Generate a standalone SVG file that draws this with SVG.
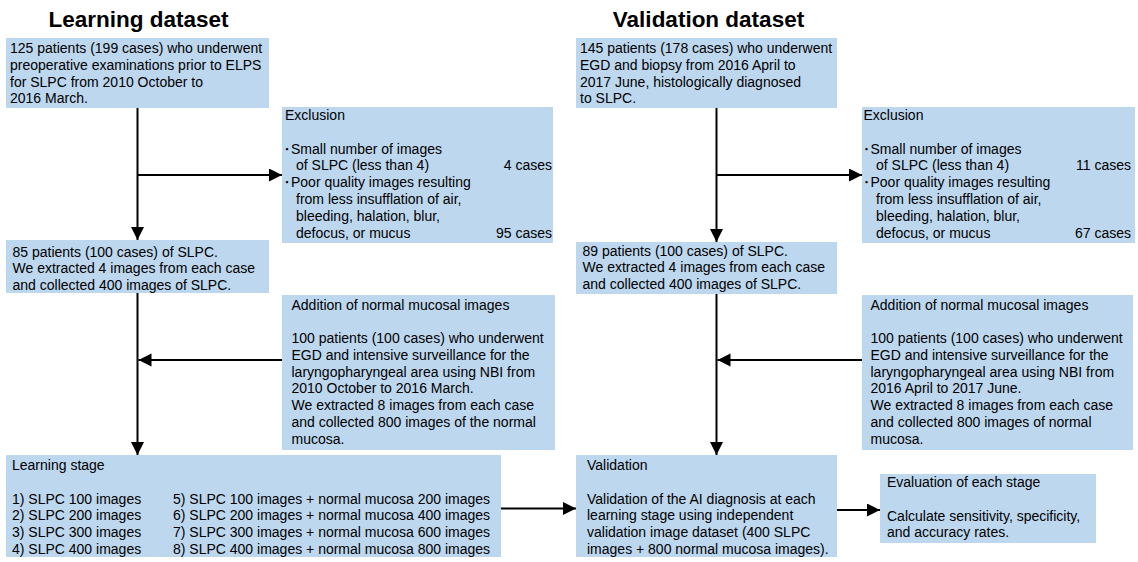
<svg xmlns="http://www.w3.org/2000/svg" width="1138" height="562" viewBox="0 0 1138 562">
<style>
  .box { fill: #bdd7ee; }
  text { font-family: "Liberation Sans", Arial, sans-serif; font-size: 14px; fill: #000; }
  .title { font-size: 22.5px; font-weight: bold; text-anchor: middle; }
  .end { text-anchor: end; }
  .bul { font-family: "Noto Sans CJK JP", "Liberation Sans", sans-serif; text-anchor: end; }
  .conn { stroke: #000; stroke-width: 2; fill: none; marker-end: url(#arrow); }
</style>
<defs>
  <marker id="arrow" markerUnits="userSpaceOnUse" markerWidth="14" markerHeight="14" refX="13" refY="6.5" orient="auto">
    <path d="M0,0 L13,6.5 L0,13 z" fill="#000"/>
  </marker>
</defs>
<rect width="1138" height="562" fill="#fff"/>

<text class="title" x="138.5" y="27">Learning dataset</text>
<text class="title" x="708.5" y="27">Validation dataset</text>

<g id="connectors">
  <line class="conn" x1="137.5" y1="108" x2="137.5" y2="240"/>
  <line class="conn" x1="137.5" y1="175" x2="282" y2="175"/>
  <line class="conn" x1="137.5" y1="292" x2="137.5" y2="455"/>
  <line class="conn" x1="282" y1="360" x2="138.5" y2="360"/>
  <line class="conn" x1="501" y1="508.5" x2="576" y2="508.5"/>
  <line class="conn" x1="716.5" y1="108" x2="716.5" y2="242"/>
  <line class="conn" x1="716.5" y1="175" x2="862" y2="175"/>
  <line class="conn" x1="716.5" y1="294" x2="716.5" y2="455"/>
  <line class="conn" x1="862" y1="360" x2="717.5" y2="360"/>
  <line class="conn" x1="837" y1="510" x2="880" y2="510"/>
</g>

<g id="learn-source">
  <rect class="box" x="6" y="38" width="263" height="70"/>
  <text x="10" y="53.3">125 patients (199 cases) who underwent</text>
  <text x="10" y="70">preoperative examinations prior to ELPS</text>
  <text x="10" y="86.7">for SLPC from 2010 October to</text>
  <text x="10" y="103.4">2016 March.</text>
</g>

<g id="learn-exclusion">
  <rect class="box" x="282" y="107" width="271" height="136"/>
  <text x="285" y="120">Exclusion</text>
  <text class="bul" x="290.5" y="153.6">･</text>
  <text x="291" y="153.6">Small number of images</text>
  <text x="296" y="170.4">of SLPC (less than 4)</text>
  <text class="end" x="552" y="170.4">4 cases</text>
  <text class="bul" x="290.5" y="187.2">･</text>
  <text x="291" y="187.2">Poor quality images resulting</text>
  <text x="296" y="204">from less insufflation of air,</text>
  <text x="296" y="220.8">bleeding, halation, blur,</text>
  <text x="296" y="237.6">defocus, or mucus</text>
  <text class="end" x="552" y="237.6">95 cases</text>
</g>

<g id="learn-slpc">
  <rect class="box" x="6" y="240" width="263" height="53"/>
  <text x="12.5" y="256.5">85 patients (100 cases) of SLPC.</text>
  <text x="12.5" y="273">We extracted 4 images from each case</text>
  <text x="12.5" y="289.5">and collected 400 images of SLPC.</text>
</g>

<g id="learn-addition">
  <rect class="box" x="282" y="295" width="273" height="155"/>
  <text x="291.5" y="309.5">Addition of normal mucosal images</text>
  <text x="291.5" y="343.3">100 patients (100 cases) who underwent</text>
  <text x="291.5" y="360">EGD and intensive surveillance for the</text>
  <text x="291.5" y="376.7">laryngopharyngeal area using NBI from</text>
  <text x="291.5" y="393.4">2010 October to 2016 March.</text>
  <text x="291.5" y="410.1">We extracted 8 images from each case</text>
  <text x="291.5" y="426.8">and collected 800 images of the normal</text>
  <text x="291.5" y="443.5">mucosa.</text>
</g>

<g id="learning-stage">
  <rect class="box" x="6" y="455" width="495" height="102"/>
  <text x="12" y="470">Learning stage</text>
  <text x="12" y="503.5">1) SLPC 100 images</text>
  <text x="12" y="520.2">2) SLPC 200 images</text>
  <text x="12" y="537">3) SLPC 300 images</text>
  <text x="12" y="553.7">4) SLPC 400 images</text>
  <text x="173" y="503.5">5) SLPC 100 images + normal mucosa 200 images</text>
  <text x="173" y="520.2">6) SLPC 200 images + normal mucosa 400 images</text>
  <text x="173" y="537">7) SLPC 300 images + normal mucosa 600 images</text>
  <text x="173" y="553.7">8) SLPC 400 images + normal mucosa 800 images</text>
</g>

<g id="val-source">
  <rect class="box" x="576" y="38" width="261" height="70"/>
  <text x="580" y="53.3">145 patients (178 cases) who underwent</text>
  <text x="580" y="70">EGD and biopsy from 2016 April to</text>
  <text x="580" y="86.7">2017 June, histologically diagnosed</text>
  <text x="580" y="103.4">to SLPC.</text>
</g>

<g id="val-exclusion">
  <rect class="box" x="862" y="107" width="273" height="136"/>
  <text x="863.5" y="120">Exclusion</text>
  <text class="bul" x="870" y="153.6">･</text>
  <text x="870.5" y="153.6">Small number of images</text>
  <text x="876" y="170.4">of SLPC (less than 4)</text>
  <text class="end" x="1131" y="170.4">11 cases</text>
  <text class="bul" x="870" y="187.2">･</text>
  <text x="870.5" y="187.2">Poor quality images resulting</text>
  <text x="876" y="204">from less insufflation of air,</text>
  <text x="876" y="220.8">bleeding, halation, blur,</text>
  <text x="876" y="237.6">defocus, or mucus</text>
  <text class="end" x="1131" y="237.6">67 cases</text>
</g>

<g id="val-slpc">
  <rect class="box" x="576" y="242" width="261" height="52"/>
  <text x="582.5" y="255.5">89 patients (100 cases) of SLPC.</text>
  <text x="582.5" y="272">We extracted 4 images from each case</text>
  <text x="582.5" y="288.5">and collected 400 images of SLPC.</text>
</g>

<g id="val-addition">
  <rect class="box" x="862" y="295" width="271" height="155"/>
  <text x="870.5" y="309.5">Addition of normal mucosal images</text>
  <text x="870.5" y="343.3">100 patients (100 cases) who underwent</text>
  <text x="870.5" y="360">EGD and intensive surveillance for the</text>
  <text x="870.5" y="376.7">laryngopharyngeal area using NBI from</text>
  <text x="870.5" y="393.4">2016 April to 2017 June.</text>
  <text x="870.5" y="410.1">We extracted 8 images from each case</text>
  <text x="870.5" y="426.8">and collected 800 images of normal</text>
  <text x="870.5" y="443.5">mucosa.</text>
</g>

<g id="validation">
  <rect class="box" x="576" y="455" width="261" height="102"/>
  <text x="587" y="470">Validation</text>
  <text x="587" y="503.5">Validation of the AI diagnosis at each</text>
  <text x="587" y="520.2">learning stage using independent</text>
  <text x="587" y="537">validation image dataset (400 SLPC</text>
  <text x="587" y="553.7">images + 800 normal mucosa images).</text>
</g>

<g id="evaluation">
  <rect class="box" x="880" y="474" width="216" height="69"/>
  <text x="887" y="487">Evaluation of each stage</text>
  <text x="887" y="520.5">Calculate sensitivity, specificity,</text>
  <text x="887" y="537">and accuracy rates.</text>
</g>
</svg>
